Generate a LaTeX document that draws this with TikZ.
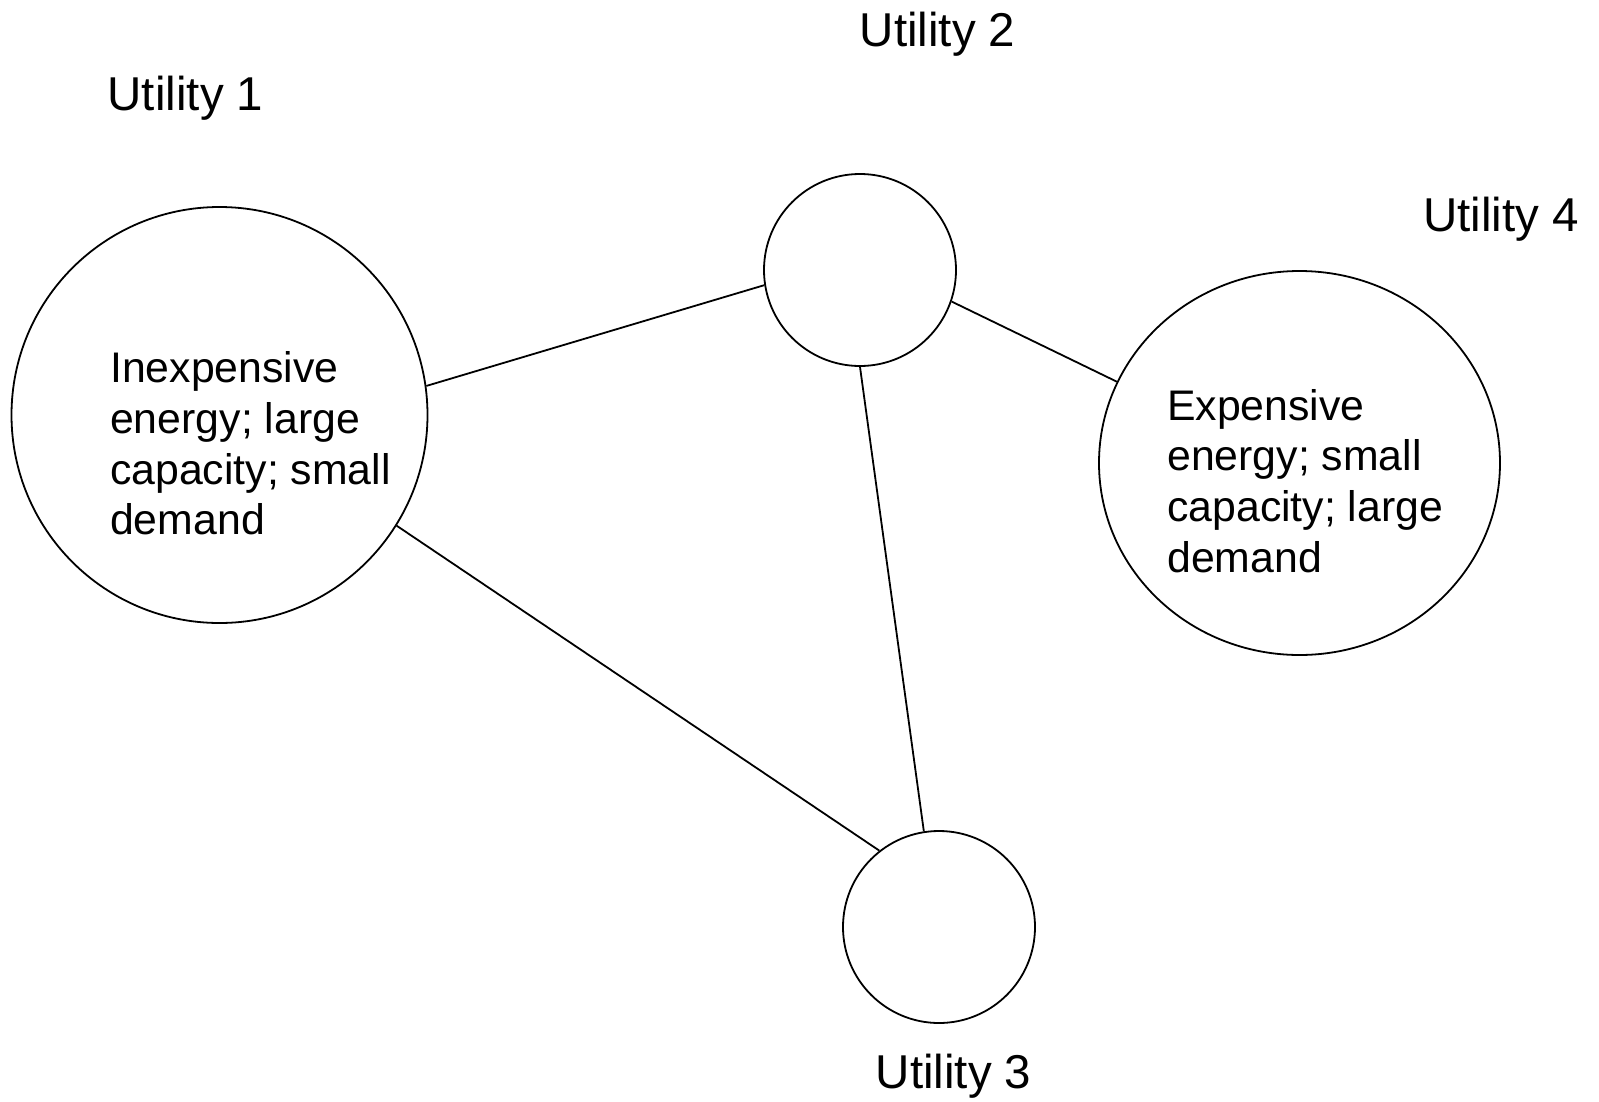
\documentclass[tikz,border=0pt]{standalone}
\usepackage{fontspec}
\setmainfont{Liberation Sans}
\usetikzlibrary{shapes.geometric}
\begin{document}
\begin{tikzpicture}[x=1pt,y=-1pt,
  ring/.style={draw, line width=1.8pt, circle, inner sep=0pt},
  oval/.style={draw, line width=1.8pt, ellipse, inner sep=0pt},
  conn/.style={line width=1.8pt},
  lbl/.style={anchor=base west, inner sep=0pt, font=\fontsize{47.5}{57}\selectfont},
  body/.style={anchor=north west, inner sep=0pt, align=left, font=\fontsize{42.8}{50.7}\selectfont}]
\useasboundingbox (0,0) rectangle (1599,1101);
\node[ring, minimum size=416pt] (u1) at (219.5,415) {};
\node[ring, minimum size=192pt] (u2) at (860,270) {};
\node[ring, minimum size=192pt] (u3) at (939,927) {};
\node[oval, minimum width=401pt, minimum height=384pt] (u4) at (1299.5,463) {};
\node[lbl] (l1) at (107.5,110) {Utility 1};
\node[lbl] (l2) at (859.5,46.7) {Utility 2};
\node[lbl] (l3) at (875.5,1088.3) {Utility 3};
\node[lbl] (l4) at (1423,231.7) {Utility 4};
\node[body] (t1) at (110,351.5) {Inexpensive\\energy; large\\capacity; small\\demand};
\node[body] (t4) at (1167,389) {Expensive\\energy; small\\capacity; large\\demand};
\draw[conn] (u1.8.9) -- (u2.189.8);
\draw[conn] (u2.-19.3) -- (u4.156.5);
\draw[conn] (u2.270) -- (u3.99.4);
\draw[conn] (u1.-32.4) -- (u3.128.6);
\end{tikzpicture}
\end{document}
